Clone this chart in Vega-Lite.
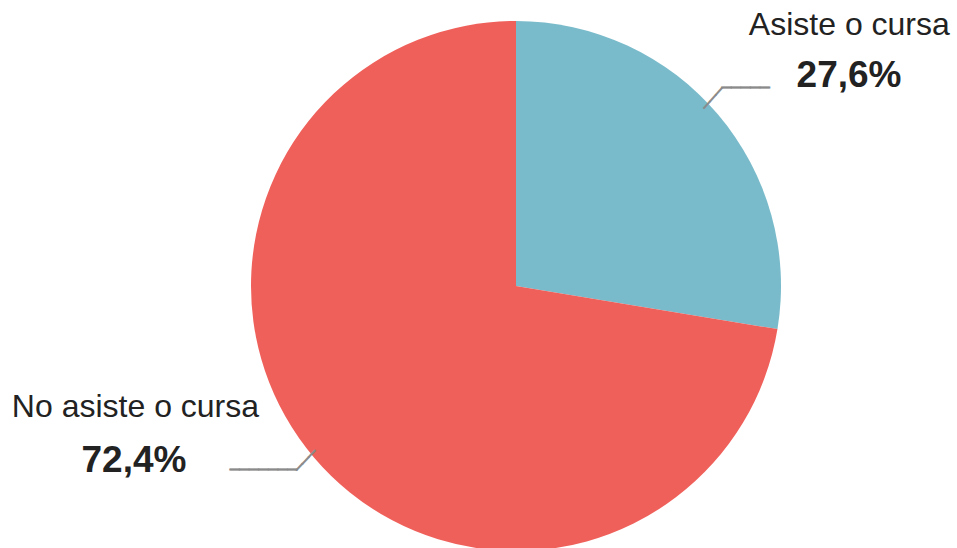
{
  "$schema": "https://vega.github.io/schema/vega-lite/v6.json",
  "width": 880,
  "height": 520,
  "autosize": {"type": "none"},
  "padding": {"left": 76, "top": 26, "right": 1, "bottom": 2},
  "background": "white",
  "config": {
    "view": {"stroke": null},
    "locale": {"number": {"decimal": ",", "thousands": ".", "grouping": [3], "currency": ["", " €"]}}
  },
  "data": {
    "values": [
      {"situacion": "Asiste o cursa", "share": 0.276},
      {"situacion": "No asiste o cursa", "share": 0.724}
    ]
  },
  "encoding": {
    "theta": {"field": "share", "type": "quantitative", "stack": true},
    "order": {"field": "situacion", "type": "ordinal", "sort": "ascending"}
  },
  "layer": [
    {
      "mark": {"type": "arc", "outerRadius": 265},
      "encoding": {
        "color": {
          "field": "situacion",
          "type": "nominal",
          "scale": {"domain": ["Asiste o cursa", "No asiste o cursa"], "range": ["#7ABBCB", "#F0605B"]},
          "legend": null
        }
      }
    },
    {
      "mark": {"type": "text", "radius": 300, "dx": 104.6, "dy": -56.8, "align": "center", "baseline": "alphabetic", "font": "Liberation Sans", "fontSize": 32, "fill": "#222222"},
      "encoding": {
        "text": {"condition": {"test": "datum.situacion === 'Asiste o cursa'", "field": "situacion", "type": "nominal"}, "value": ""}
      }
    },
    {
      "mark": {"type": "text", "radius": 300, "dx": 104.3, "dy": -4.5, "align": "center", "baseline": "alphabetic", "font": "Liberation Sans", "fontSize": 37, "fontWeight": "bold", "fill": "#222222"},
      "encoding": {
        "text": {"condition": {"test": "datum.situacion === 'Asiste o cursa'", "field": "share", "type": "quantitative", "format": ".1%"}, "value": ""}
      }
    },
    {
      "mark": {"type": "text", "radius": 300, "dx": -151.8, "dy": -63.5, "align": "center", "baseline": "alphabetic", "font": "Liberation Sans", "fontSize": 32, "fill": "#222222"},
      "encoding": {
        "text": {"condition": {"test": "datum.situacion === 'No asiste o cursa'", "field": "situacion", "type": "nominal"}, "value": ""}
      }
    },
    {
      "mark": {"type": "text", "radius": 300, "dx": -153.3, "dy": -8.5, "align": "center", "baseline": "alphabetic", "font": "Liberation Sans", "fontSize": 37, "fontWeight": "bold", "fill": "#222222"},
      "encoding": {
        "text": {"condition": {"test": "datum.situacion === 'No asiste o cursa'", "field": "share", "type": "quantitative", "format": ".1%"}, "value": ""}
      }
    },
    {
      "mark": {"type": "text", "radius": 300, "dx": 0.8, "dy": -3.5, "align": "center", "baseline": "middle", "font": "DejaVu Sans", "fontSize": 16, "fill": "#8a8a8a", "stroke": "#8a8a8a", "strokeWidth": 0.7},
      "encoding": {
        "text": {"condition": {"test": "datum.situacion === 'Asiste o cursa'", "value": "─────"}, "value": ""}
      }
    },
    {
      "mark": {"type": "text", "radius": 272, "dx": 1.9, "dy": -15.5, "angle": 311.5, "align": "center", "baseline": "middle", "font": "DejaVu Sans", "fontSize": 15, "fill": "#8a8a8a", "stroke": "#8a8a8a", "strokeWidth": 0.7},
      "encoding": {
        "text": {"condition": {"test": "datum.situacion === 'Asiste o cursa'", "value": "───"}, "value": ""}
      }
    },
    {
      "mark": {"type": "text", "radius": 300, "dx": -23.9, "dy": -10.2, "align": "center", "baseline": "middle", "font": "DejaVu Sans", "fontSize": 16, "fill": "#8a8a8a", "stroke": "#8a8a8a", "strokeWidth": 0.7},
      "encoding": {
        "text": {"condition": {"test": "datum.situacion === 'No asiste o cursa'", "value": "───────"}, "value": ""}
      }
    },
    {
      "mark": {"type": "text", "radius": 272, "dx": -0.8, "dy": -3.1, "angle": 313.5, "align": "center", "baseline": "middle", "font": "DejaVu Sans", "fontSize": 15, "fill": "#8a8a8a", "stroke": "#8a8a8a", "strokeWidth": 0.7},
      "encoding": {
        "text": {"condition": {"test": "datum.situacion === 'No asiste o cursa'", "value": "───"}, "value": ""}
      }
    }
  ]
}
